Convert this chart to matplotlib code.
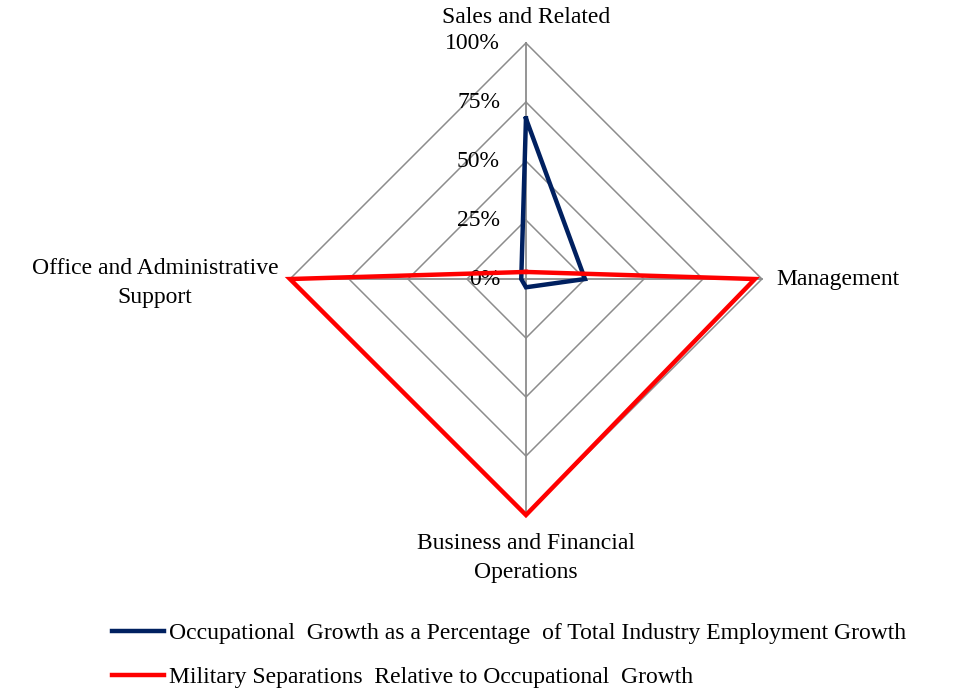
import numpy as np
import matplotlib
matplotlib.use("Agg")
import matplotlib.pyplot as plt

categories = ["Sales and Related", "Management",
              "Business and Financial\nOperations",
              "Office and Administrative\nSupport"]
occ_growth = [0.68, 0.25, 0.035, 0.02]
mil_sep = [0.03, 0.97, 1.0, 1.0]
levels = [0.0, 0.25, 0.50, 0.75, 1.0]
level_labels = ["0%", "25%", "50%", "75%", "100%"]
series_names = ["Occupational  Growth as a Percentage  of Total Industry Employment Growth",
                "Military Separations  Relative to Occupational  Growth"]

plt.rcParams['font.family'] = ['Liberation Serif', 'DejaVu Serif']
FS = 17

# angles clockwise from top
theta = np.arange(len(categories)) * 2 * np.pi / len(categories)


def to_xy(vals):
    v = np.asarray(vals + vals[:1], dtype=float)
    t = np.concatenate([theta, theta[:1]])
    return v * np.sin(t), v * np.cos(t)


fig = plt.figure(figsize=(9.74, 6.91), dpi=100)
ax = fig.add_axes([0.2856, 0.2376, 0.5088, 0.7172])
ax.set_xlim(-1.05, 1.05)
ax.set_ylim(-1.05, 1.05)
ax.axis('off')

grid_color = '#8c8c8c'
for lv in levels[1:]:
    gx, gy = to_xy([lv] * len(categories))
    ax.plot(gx, gy, color=grid_color, lw=1.1, zorder=1)
for t in theta:
    ax.plot([0, np.sin(t)], [0, np.cos(t)], color=grid_color, lw=1.3, zorder=1)

for lv, lab in zip(levels, level_labels):
    ax.text(-0.11, lv, lab, ha='right', va='center', fontsize=FS, zorder=2)

bx, by = to_xy(occ_growth)
ax.plot(bx, by, color='#002060', lw=3.2, solid_joinstyle='miter', zorder=3,
        clip_on=False, label=series_names[0])
rx, ry = to_xy(mil_sep)
ax.plot(rx, ry, color='#ff0000', lw=3.2, solid_joinstyle='miter', zorder=3,
        clip_on=False, label=series_names[1])

# category labels
ax.text(0, 1.085, categories[0], ha='center', va='baseline', fontsize=FS)
ax.text(1.06, 0, categories[1], ha='left', va='center', fontsize=FS)
ax.text(0, -1.075, categories[2], ha='center', va='top', fontsize=FS,
        linespacing=1.5)
ax.text(-1.05, -0.015, categories[3], ha='right', va='center', fontsize=FS,
        multialignment='center', linespacing=1.5)

fig.legend(loc='upper left', bbox_to_anchor=(0.115, 0.099), frameon=False,
           fontsize=FS, handlelength=2.2, handletextpad=0.2, labelspacing=0.95,
           borderaxespad=0, borderpad=0)

fig.savefig('out.png', dpi=100)
